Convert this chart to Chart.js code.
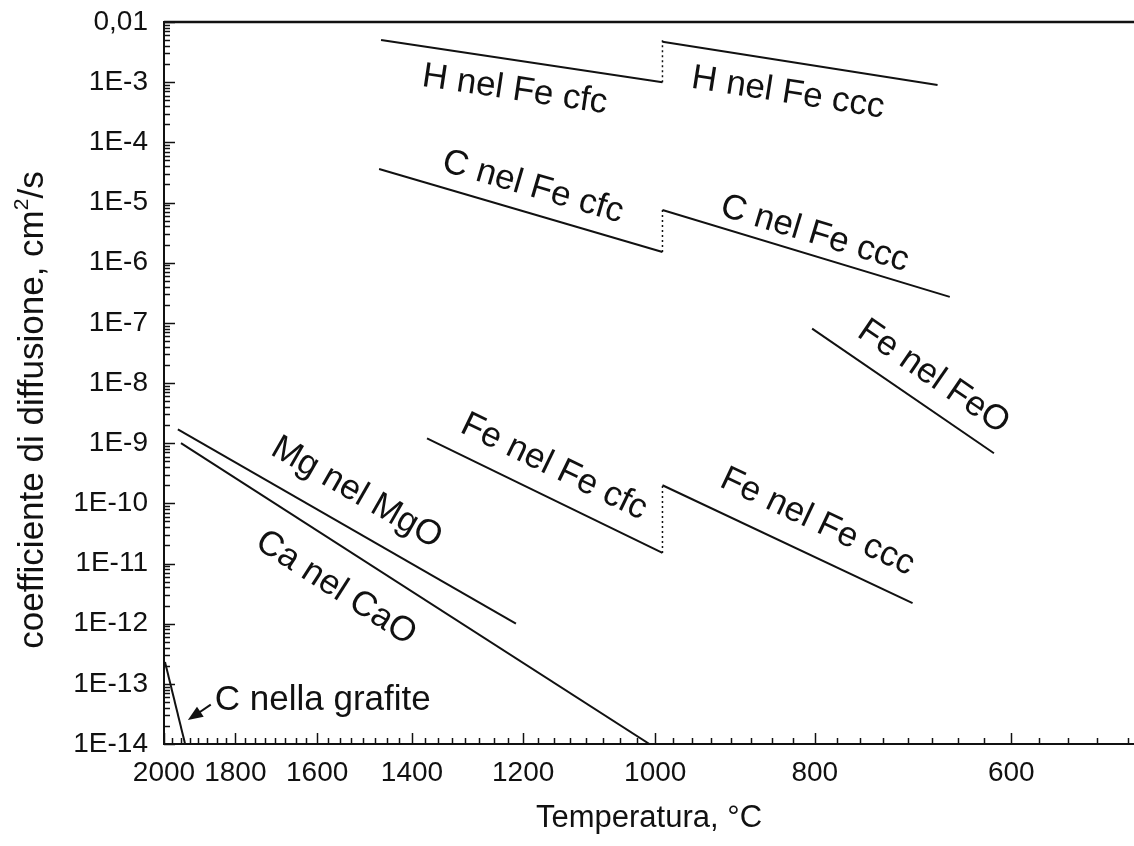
<!DOCTYPE html>
<html>
<head>
<meta charset="utf-8">
<script src="https://cdn.jsdelivr.net/npm/chart.js@4.4.1/dist/chart.umd.min.js"></script>
<style>
  html, body { margin: 0; padding: 0; background: #fff; }
  #wrap { width: 1134px; height: 846px; }
</style>
</head>
<body>
<div id="wrap"><canvas id="diffChart" width="1134" height="846"></canvas></div>
<script>
// ----------------------------------------------------------------------
// Dati: temperatura in °C, coefficiente D in cm^2/s
// (estremi di ogni tratto rettilineo del diagramma di Arrhenius)
// ----------------------------------------------------------------------
const xTickTemps = [2000, 1800, 1600, 1400, 1200, 1000, 800, 600];
const yTickExps = [-2, -3, -4, -5, -6, -7, -8, -9, -10, -11, -12, -13, -14];

const hCfcT = [1462, 990];   const hCfcD = [5.0e-3, 1.0e-3];
const hCccT = [990, 670];    const hCccD = [4.7e-3, 9.0e-4];
const hJumpT = [990, 990];   const hJumpD = [1.0e-3, 5.6e-3];
const cCfcT = [1466, 990];   const cCfcD = [3.6e-5, 1.5e-6];
const cCccT = [990, 658];    const cCccD = [7.5e-6, 2.7e-7];
const cJumpT = [990, 990];   const cJumpD = [1.5e-6, 7.5e-6];
const feoT = [803, 616];     const feoD = [8.0e-8, 6.8e-10];
const feCfcT = [1371, 990];  const feCfcD = [1.2e-9, 1.5e-11];
const feCccT = [990, 695];   const feCccD = [2.0e-10, 2.2e-12];
const feJumpT = [990, 990];  const feJumpD = [1.5e-11, 2.0e-10];
const mgoT = [1959, 1212];   const mgoD = [1.7e-9, 1.0e-12];
const caoT = [1950, 1008];   const caoD = [1.0e-9, 1.0e-14];
const grafT = [1997, 1938];  const grafD = [2.3e-13, 1.0e-14];

// etichette nel grafico: testo, punto di ancoraggio (T, D), tratto da seguire
const labels = [
  { text: 'H nel Fe cfc',  T: 1214, D: 7.4e-4,  ref: 'hCfc' },
  { text: 'H nel Fe ccc',  T: 831,  D: 6.6e-4,  ref: 'hCcc' },
  { text: 'C nel Fe cfc',  T: 1184, D: 1.8e-5,  ref: 'cCfc' },
  { text: 'C nel Fe ccc',  T: 800,  D: 3.0e-6,  ref: 'cCcc' },
  { text: 'Fe nel FeO',    T: 674,  D: 1.26e-8, ref: 'feo' },
  { text: 'Fe nel Fe cfc', T: 1150, D: 4.0e-10, ref: 'feCfc' },
  { text: 'Fe nel Fe ccc', T: 797,  D: 4.9e-11, ref: 'feCcc' },
  { text: 'Mg nel MgO',    T: 1513, D: 1.49e-10, ref: 'mgo' },
  { text: 'Ca nel CaO',    T: 1558, D: 3.9e-12, ref: 'cao' }
];
const grafLabel = { text: 'C nella grafite', T: 1855, D: 5.4e-14 };
const grafArrow = { fromT: 1866, fromD: 4.5e-14, toT: 1930, toD: 2.5e-14 };

// asse x reciproco (tipo Arrhenius) adattato al riferimento
const X_OFFSET = 1123;
const toX = t => 1e4 / (t + X_OFFSET);
const fromX = v => 1e4 / v - X_OFFSET;

const FONT = '"Liberation Sans", Arial, sans-serif';
const INK = '#111';

function seg(id, temps, values, dashed) {
  return {
    id: id,
    data: temps.map((t, i) => ({ x: toX(t), y: values[i] })),
    showLine: true,
    borderColor: INK,
    borderWidth: dashed ? 1.5 : 2,
    borderDash: dashed ? [2, 3] : [],
    pointRadius: 0,
    tension: 0
  };
}

const datasets = [
  seg('hCfc', hCfcT, hCfcD), seg('hCcc', hCccT, hCccD), seg('hJump', hJumpT, hJumpD, true),
  seg('cCfc', cCfcT, cCfcD), seg('cCcc', cCccT, cCccD), seg('cJump', cJumpT, cJumpD, true),
  seg('feo', feoT, feoD),
  seg('feCfc', feCfcT, feCfcD), seg('feCcc', feCccT, feCccD), seg('feJump', feJumpT, feJumpD, true),
  seg('mgo', mgoT, mgoD), seg('cao', caoT, caoD), seg('graf', grafT, grafD)
];

// ----------------------------------------------------------------------
// Plugin: tacche interne, bordo superiore, titolo y, etichette, freccia
// ----------------------------------------------------------------------
const decorations = {
  id: 'decorations',
  afterDraw(chart) {
    const ctx = chart.ctx;
    const xs = chart.scales.x, ys = chart.scales.y;
    const area = chart.chartArea;
    ctx.save();
    ctx.strokeStyle = INK;
    ctx.fillStyle = INK;

    // bordo superiore
    ctx.lineWidth = 2.5;
    ctx.beginPath();
    ctx.moveTo(area.left, area.top);
    ctx.lineTo(area.right, area.top);
    ctx.stroke();

    // tacche asse x (verso l'interno)
    ctx.lineWidth = 1.5;
    for (let t = 2000; t >= 500; t -= 25) {
      const px = Math.round(xs.getPixelForValue(toX(t))) + 0.5;
      const len = xTickTemps.includes(t) ? 11 : 6;
      ctx.beginPath();
      ctx.moveTo(px, area.bottom);
      ctx.lineTo(px, area.bottom - len);
      ctx.stroke();
    }
    // tacche asse y (logaritmiche)
    for (let e = -14; e <= -2; e++) {
      for (let m = 1; m <= 9; m++) {
        if (e === -2 && m > 1) break;
        const py = Math.round(ys.getPixelForValue(m * Math.pow(10, e))) + 0.5;
        const len = m === 1 ? 11 : 6;
        ctx.beginPath();
        ctx.moveTo(area.left, py);
        ctx.lineTo(area.left + len, py);
        ctx.stroke();
      }
    }

    // titolo asse y con apice
    const tf = 35;
    const main = 'coefficiente di diffusione, cm', sup = '2', tail = '/s';
    ctx.font = tf + 'px ' + FONT;
    const wMain = ctx.measureText(main).width, wTail = ctx.measureText(tail).width;
    ctx.font = Math.round(tf * 0.6) + 'px ' + FONT;
    const wSup = ctx.measureText(sup).width;
    const total = wMain + wSup + wTail;
    ctx.save();
    ctx.translate(43, (area.top + area.bottom) / 2 + 27);
    ctx.rotate(-Math.PI / 2);
    ctx.textAlign = 'left';
    ctx.textBaseline = 'alphabetic';
    ctx.font = tf + 'px ' + FONT;
    ctx.fillText(main, -total / 2, 0);
    ctx.font = Math.round(tf * 0.6) + 'px ' + FONT;
    ctx.fillText(sup, -total / 2 + wMain, -tf * 0.42);
    ctx.font = tf + 'px ' + FONT;
    ctx.fillText(tail, -total / 2 + wMain + wSup, 0);
    ctx.restore();

    // etichette ruotate parallele ai tratti
    ctx.font = '35px ' + FONT;
    ctx.textAlign = 'center';
    ctx.textBaseline = 'middle';
    labels.forEach(lb => {
      const ds = chart.data.datasets.find(d => d.id === lb.ref);
      const a = ds.data[0], b = ds.data[ds.data.length - 1];
      const ang = Math.atan2(ys.getPixelForValue(b.y) - ys.getPixelForValue(a.y),
                             xs.getPixelForValue(b.x) - xs.getPixelForValue(a.x));
      ctx.save();
      ctx.translate(xs.getPixelForValue(toX(lb.T)), ys.getPixelForValue(lb.D));
      ctx.rotate(ang);
      ctx.fillText(lb.text, 0, 0);
      ctx.restore();
    });

    // C nella grafite + freccia
    ctx.textAlign = 'left';
    ctx.fillText(grafLabel.text, xs.getPixelForValue(toX(grafLabel.T)), ys.getPixelForValue(grafLabel.D));
    const x0 = xs.getPixelForValue(toX(grafArrow.fromT)), y0 = ys.getPixelForValue(grafArrow.fromD);
    const x1 = xs.getPixelForValue(toX(grafArrow.toT)), y1 = ys.getPixelForValue(grafArrow.toD);
    const ang = Math.atan2(y1 - y0, x1 - x0);
    ctx.lineWidth = 2;
    ctx.beginPath();
    ctx.moveTo(x0, y0);
    ctx.lineTo(x1 - 10 * Math.cos(ang), y1 - 10 * Math.sin(ang));
    ctx.stroke();
    ctx.beginPath();
    ctx.moveTo(x1, y1);
    ctx.lineTo(x1 - 15 * Math.cos(ang) + 6 * Math.sin(ang), y1 - 15 * Math.sin(ang) - 6 * Math.cos(ang));
    ctx.lineTo(x1 - 15 * Math.cos(ang) - 6 * Math.sin(ang), y1 - 15 * Math.sin(ang) + 6 * Math.cos(ang));
    ctx.closePath();
    ctx.fill();
    ctx.restore();
  }
};

new Chart(document.getElementById('diffChart'), {
  type: 'scatter',
  data: { datasets: datasets },
  options: {
    responsive: false,
    animation: false,
    layout: { padding: { top: 22, right: 0, bottom: 0, left: 0 } },
    plugins: { legend: { display: false }, tooltip: { enabled: false } },
    scales: {
      x: {
        type: 'linear',
        min: toX(2000),
        max: toX(495),
        afterBuildTicks: s => { s.ticks = xTickTemps.map(t => ({ value: toX(t) })); },
        afterFit: s => { s.height = 102; s.paddingLeft = 0; s.paddingRight = 0; },
        ticks: {
          callback: v => String(Math.round(fromX(v) / 10) * 10),
          font: { family: FONT, size: 28 },
          color: INK,
          padding: 12,
          maxRotation: 0,
          autoSkip: false
        },
        grid: { display: true, drawOnChartArea: false, drawTicks: false },
        border: { display: true, color: INK, width: 2 },
        title: {
          display: true,
          text: 'Temperatura, °C',
          font: { family: FONT, size: 31 },
          color: INK,
          padding: { top: 0, bottom: 9 }
        }
      },
      y: {
        type: 'logarithmic',
        min: 1e-14,
        max: 1e-2,
        afterBuildTicks: s => { s.ticks = yTickExps.map(e => ({ value: Math.pow(10, e) })); },
        afterFit: s => { s.width = 164; s.paddingTop = 0; s.paddingBottom = 0; },
        ticks: {
          callback: v => {
            const e = Math.round(Math.log10(v));
            return e === -2 ? '0,01' : '1E' + e;
          },
          font: { family: FONT, size: 28 },
          color: INK,
          padding: 16,
          autoSkip: false
        },
        grid: { display: true, drawOnChartArea: false, drawTicks: false },
        border: { display: true, color: INK, width: 2 },
        title: { display: false }
      }
    }
  },
  plugins: [decorations]
});
</script>
</body>
</html>
